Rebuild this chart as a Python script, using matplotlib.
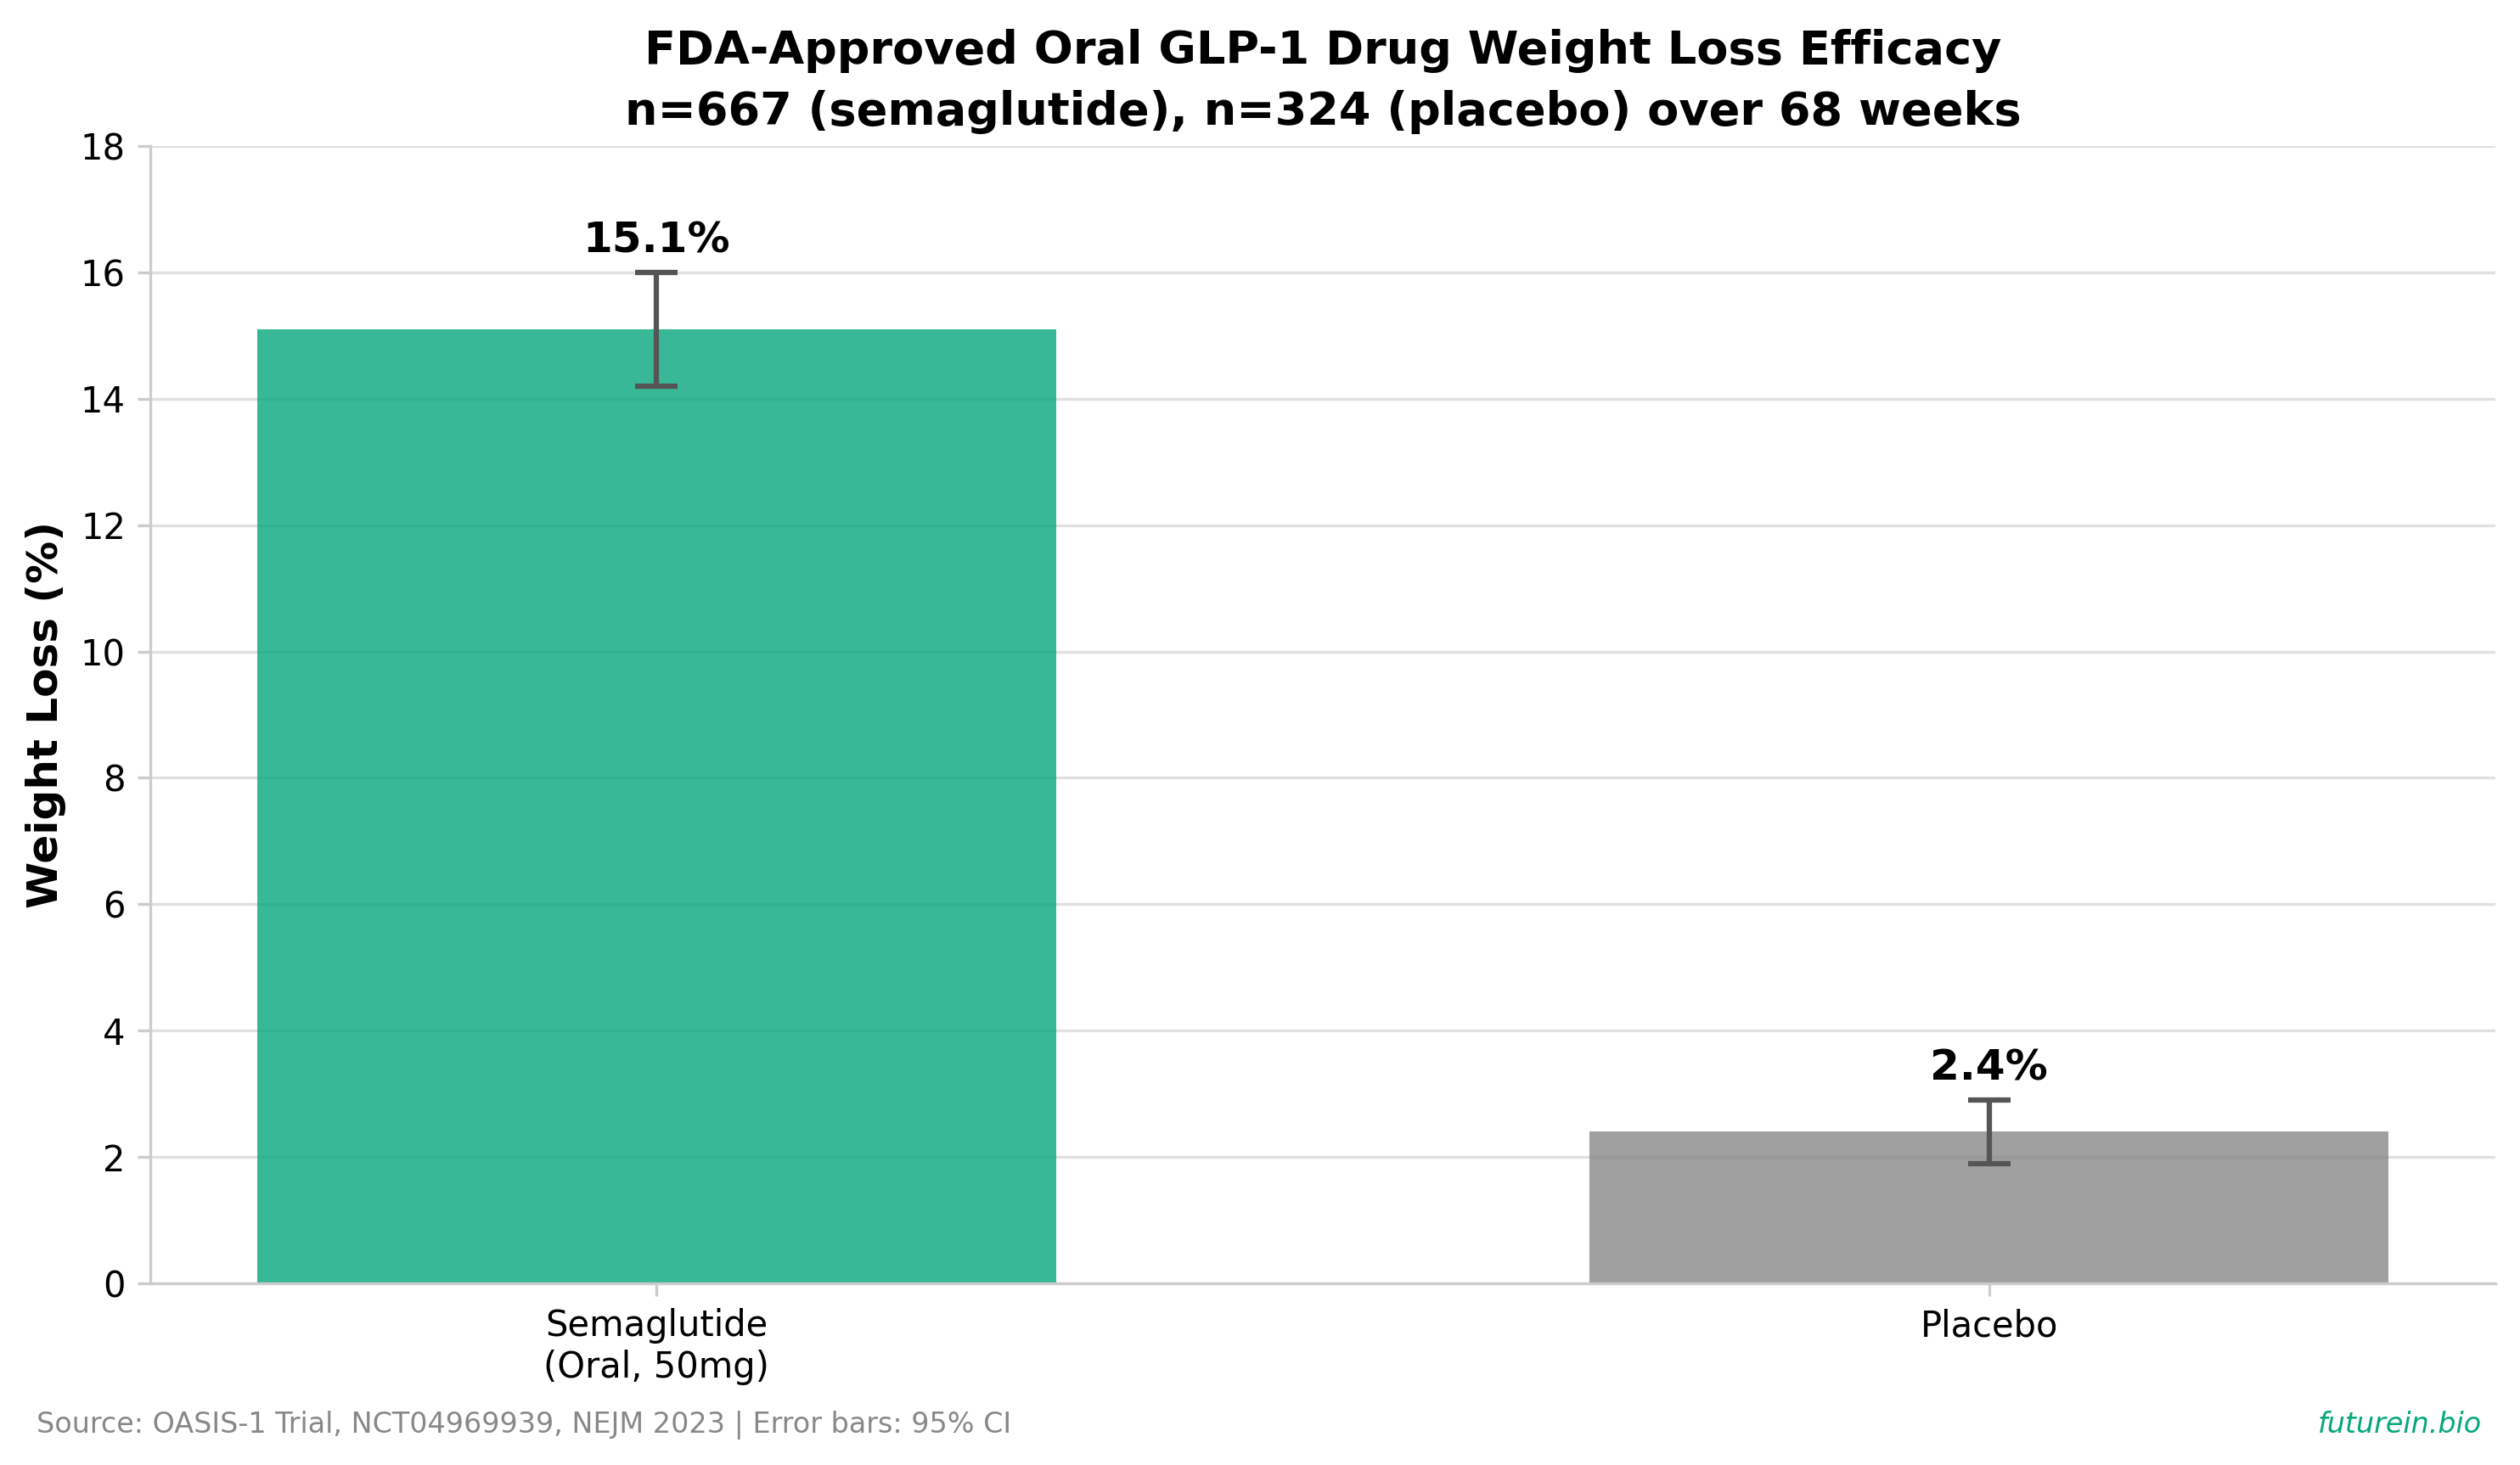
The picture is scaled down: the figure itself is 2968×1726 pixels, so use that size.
import matplotlib
matplotlib.use("Agg")
import matplotlib.pyplot as plt

categories = ["Semaglutide\n(Oral, 50mg)", "Placebo"]
values = [15.1, 2.4]
ci_lower = [14.2, 1.9]
ci_upper = [16.0, 2.9]
value_labels = ["15.1%", "2.4%"]
bar_colors = ["#06A77D", "#888888"]
yticks = [0, 2, 4, 6, 8, 10, 12, 14, 16, 18]

W, H, DPI = 2968, 1726, 300
fig = plt.figure(figsize=(W / DPI, H / DPI), dpi=DPI)
ax = fig.add_axes([177 / W, 1 - 1512 / H, (2939 - 177) / W, (1512 - 172) / H])

x = list(range(len(categories)))
yerr = [[v - lo for v, lo in zip(values, ci_lower)],
        [hi - v for v, hi in zip(values, ci_upper)]]
ax.bar(x, values, width=0.6, color=bar_colors, alpha=0.8, zorder=2,
       yerr=yerr, capsize=6,
       error_kw=dict(ecolor="#555555", elinewidth=1.5, capthick=1.5, zorder=3))

for xi, hi, lab in zip(x, ci_upper, value_labels):
    ax.text(xi, hi + 0.18, lab, ha="center", va="bottom", fontsize=12,
            fontweight="bold", color="black")

ax.set_ylim(0, 18)
ax.set_yticks(yticks)
ax.set_xticks(x)
ax.set_xticklabels(categories, fontsize=10)
ax.tick_params(axis="y", labelsize=10)
ax.tick_params(axis="both", colors="#cccccc", labelcolor="black", length=3.5)
ax.grid(axis="y", color="#e0e0e0", linewidth=0.8, zorder=0)
ax.set_axisbelow(True)
for s in ["top", "right"]:
    ax.spines[s].set_visible(False)
for s in ["left", "bottom"]:
    ax.spines[s].set_color("#cccccc")
    ax.spines[s].set_linewidth(0.8)

ax.set_ylabel("Weight Loss (%)", fontsize=12, fontweight="bold")
ax.set_title("FDA-Approved Oral GLP-1 Drug Weight Loss Efficacy\n"
             "n=667 (semaglutide), n=324 (placebo) over 68 weeks",
             fontsize=13, fontweight="bold", linespacing=1.5)

fig.text(43 / W, 1 - 1679 / H,
         "Source: OASIS-1 Trial, NCT04969939, NEJM 2023 | Error bars: 95% CI",
         fontsize=8, color="#888888", ha="left", va="center")
fig.text(2923 / W, 1 - 1679 / H, "futurein.bio", fontsize=8,
         color="#06A77D", style="italic", ha="right", va="center")

fig.savefig("out.png", dpi=DPI)
